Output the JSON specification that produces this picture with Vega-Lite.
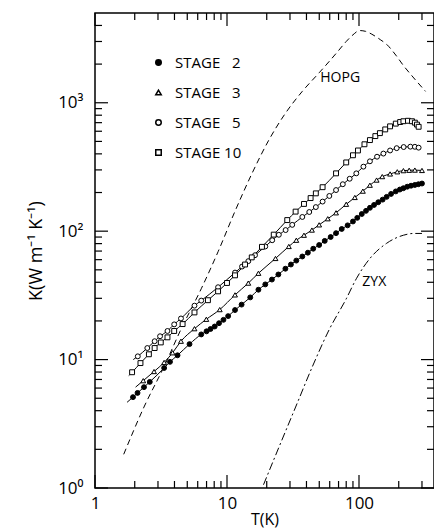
{
  "$schema": "https://vega.github.io/schema/vega-lite/v6.json",
  "width": 339,
  "height": 475,
  "autosize": {"type": "none"},
  "padding": {"left": 95, "top": 13, "right": 0, "bottom": 43},
  "background": "white",
  "config": {
    "view": {"stroke": "black", "strokeWidth": 1.5},
    "axis": {"domain": false, "grid": false, "ticks": false, "labelFont": "Open Sans", "titleFont": "Open Sans", "labelColor": "black", "titleColor": "black", "labelFontWeight": "normal", "titleFontWeight": "normal", "labelOverlap": false}
  },
  "datasets": {
    "pts": [
      {"stage": "STAGE 2", "T": 1.75, "K": 4.65, "kind": "start"},
      {"stage": "STAGE 2", "T": 1.94, "K": 5.1},
      {"stage": "STAGE 2", "T": 2.1, "K": 5.5},
      {"stage": "STAGE 2", "T": 2.35, "K": 6.1},
      {"stage": "STAGE 2", "T": 2.6, "K": 6.7},
      {"stage": "STAGE 2", "T": 3.34, "K": 8.6},
      {"stage": "STAGE 2", "T": 3.7, "K": 9.6},
      {"stage": "STAGE 2", "T": 4.22, "K": 10.8},
      {"stage": "STAGE 2", "T": 5.2, "K": 13.2},
      {"stage": "STAGE 2", "T": 6.38, "K": 15.7},
      {"stage": "STAGE 2", "T": 7.0, "K": 16.6},
      {"stage": "STAGE 2", "T": 7.5, "K": 17.3},
      {"stage": "STAGE 2", "T": 8.07, "K": 18.1},
      {"stage": "STAGE 2", "T": 8.7, "K": 19.2},
      {"stage": "STAGE 2", "T": 9.4, "K": 20.4},
      {"stage": "STAGE 2", "T": 10.2, "K": 21.8},
      {"stage": "STAGE 2", "T": 11.5, "K": 24.3},
      {"stage": "STAGE 2", "T": 12.9, "K": 26.8},
      {"stage": "STAGE 2", "T": 15.0, "K": 30.5},
      {"stage": "STAGE 2", "T": 17.3, "K": 35.0},
      {"stage": "STAGE 2", "T": 19.5, "K": 38.5},
      {"stage": "STAGE 2", "T": 21.9, "K": 42},
      {"stage": "STAGE 2", "T": 24.5, "K": 46},
      {"stage": "STAGE 2", "T": 27.7, "K": 51},
      {"stage": "STAGE 2", "T": 30.5, "K": 55},
      {"stage": "STAGE 2", "T": 33.5, "K": 59},
      {"stage": "STAGE 2", "T": 37.2, "K": 63.5},
      {"stage": "STAGE 2", "T": 41, "K": 68},
      {"stage": "STAGE 2", "T": 45, "K": 73},
      {"stage": "STAGE 2", "T": 49.9, "K": 78},
      {"stage": "STAGE 2", "T": 55, "K": 84},
      {"stage": "STAGE 2", "T": 61, "K": 90},
      {"stage": "STAGE 2", "T": 67, "K": 96.5},
      {"stage": "STAGE 2", "T": 74, "K": 104},
      {"stage": "STAGE 2", "T": 82, "K": 111},
      {"stage": "STAGE 2", "T": 90, "K": 119},
      {"stage": "STAGE 2", "T": 97, "K": 127},
      {"stage": "STAGE 2", "T": 105, "K": 136},
      {"stage": "STAGE 2", "T": 113, "K": 144},
      {"stage": "STAGE 2", "T": 121, "K": 152},
      {"stage": "STAGE 2", "T": 130, "K": 160},
      {"stage": "STAGE 2", "T": 140, "K": 168},
      {"stage": "STAGE 2", "T": 151, "K": 176},
      {"stage": "STAGE 2", "T": 162, "K": 185},
      {"stage": "STAGE 2", "T": 175, "K": 195},
      {"stage": "STAGE 2", "T": 190, "K": 204},
      {"stage": "STAGE 2", "T": 204, "K": 211},
      {"stage": "STAGE 2", "T": 217, "K": 216},
      {"stage": "STAGE 2", "T": 232, "K": 222},
      {"stage": "STAGE 2", "T": 248, "K": 226},
      {"stage": "STAGE 2", "T": 265, "K": 229},
      {"stage": "STAGE 2", "T": 282, "K": 232},
      {"stage": "STAGE 2", "T": 300, "K": 235},
      {"stage": "STAGE 3", "T": 2.03, "K": 6.1, "kind": "start"},
      {"stage": "STAGE 3", "T": 2.32, "K": 6.85},
      {"stage": "STAGE 3", "T": 2.8, "K": 8.07},
      {"stage": "STAGE 3", "T": 3.34, "K": 9.5},
      {"stage": "STAGE 3", "T": 3.87, "K": 11.3},
      {"stage": "STAGE 3", "T": 4.48, "K": 13.9},
      {"stage": "STAGE 3", "T": 5.67, "K": 17.4},
      {"stage": "STAGE 3", "T": 6.97, "K": 20.6},
      {"stage": "STAGE 3", "T": 8.81, "K": 24.5},
      {"stage": "STAGE 3", "T": 11.5, "K": 31.9},
      {"stage": "STAGE 3", "T": 14.5, "K": 39.4},
      {"stage": "STAGE 3", "T": 17.3, "K": 47},
      {"stage": "STAGE 3", "T": 23.3, "K": 61.3},
      {"stage": "STAGE 3", "T": 29.4, "K": 76},
      {"stage": "STAGE 3", "T": 33.5, "K": 85},
      {"stage": "STAGE 3", "T": 38.3, "K": 93},
      {"stage": "STAGE 3", "T": 44, "K": 102},
      {"stage": "STAGE 3", "T": 49.9, "K": 112},
      {"stage": "STAGE 3", "T": 58, "K": 125},
      {"stage": "STAGE 3", "T": 67, "K": 139},
      {"stage": "STAGE 3", "T": 80, "K": 162},
      {"stage": "STAGE 3", "T": 93, "K": 183},
      {"stage": "STAGE 3", "T": 107, "K": 205},
      {"stage": "STAGE 3", "T": 121, "K": 228},
      {"stage": "STAGE 3", "T": 136, "K": 250},
      {"stage": "STAGE 3", "T": 150, "K": 266},
      {"stage": "STAGE 3", "T": 172, "K": 279},
      {"stage": "STAGE 3", "T": 195, "K": 290},
      {"stage": "STAGE 3", "T": 217, "K": 296},
      {"stage": "STAGE 3", "T": 240, "K": 298},
      {"stage": "STAGE 3", "T": 265, "K": 299},
      {"stage": "STAGE 3", "T": 300, "K": 297},
      {"stage": "STAGE 5", "T": 1.95, "K": 10.0, "kind": "start"},
      {"stage": "STAGE 5", "T": 2.11, "K": 10.6},
      {"stage": "STAGE 5", "T": 2.49, "K": 12.3},
      {"stage": "STAGE 5", "T": 2.83, "K": 13.9},
      {"stage": "STAGE 5", "T": 3.11, "K": 15.2},
      {"stage": "STAGE 5", "T": 3.54, "K": 16.7},
      {"stage": "STAGE 5", "T": 3.98, "K": 18.8},
      {"stage": "STAGE 5", "T": 4.48, "K": 20.9},
      {"stage": "STAGE 5", "T": 5.67, "K": 26.3},
      {"stage": "STAGE 5", "T": 6.38, "K": 28.8},
      {"stage": "STAGE 5", "T": 8.56, "K": 36.6},
      {"stage": "STAGE 5", "T": 11.5, "K": 47.6},
      {"stage": "STAGE 5", "T": 13.0, "K": 53},
      {"stage": "STAGE 5", "T": 14.5, "K": 58.4},
      {"stage": "STAGE 5", "T": 16.3, "K": 65},
      {"stage": "STAGE 5", "T": 19.5, "K": 76},
      {"stage": "STAGE 5", "T": 22, "K": 85},
      {"stage": "STAGE 5", "T": 24.7, "K": 93.7},
      {"stage": "STAGE 5", "T": 27.8, "K": 102},
      {"stage": "STAGE 5", "T": 31.2, "K": 112},
      {"stage": "STAGE 5", "T": 37.2, "K": 129},
      {"stage": "STAGE 5", "T": 42, "K": 141},
      {"stage": "STAGE 5", "T": 47.1, "K": 154},
      {"stage": "STAGE 5", "T": 53, "K": 170},
      {"stage": "STAGE 5", "T": 59.6, "K": 188},
      {"stage": "STAGE 5", "T": 67, "K": 209},
      {"stage": "STAGE 5", "T": 75.4, "K": 232},
      {"stage": "STAGE 5", "T": 85, "K": 256},
      {"stage": "STAGE 5", "T": 95.4, "K": 282},
      {"stage": "STAGE 5", "T": 108, "K": 318},
      {"stage": "STAGE 5", "T": 121, "K": 350},
      {"stage": "STAGE 5", "T": 137, "K": 380},
      {"stage": "STAGE 5", "T": 153, "K": 402},
      {"stage": "STAGE 5", "T": 172, "K": 425},
      {"stage": "STAGE 5", "T": 193, "K": 443},
      {"stage": "STAGE 5", "T": 218, "K": 452},
      {"stage": "STAGE 5", "T": 245, "K": 455},
      {"stage": "STAGE 5", "T": 265, "K": 454},
      {"stage": "STAGE 5", "T": 283, "K": 447},
      {"stage": "STAGE 10", "T": 1.8, "K": 7.5, "kind": "start"},
      {"stage": "STAGE 10", "T": 1.91, "K": 7.97},
      {"stage": "STAGE 10", "T": 2.21, "K": 9.39},
      {"stage": "STAGE 10", "T": 2.56, "K": 11.0},
      {"stage": "STAGE 10", "T": 2.83, "K": 12.3},
      {"stage": "STAGE 10", "T": 3.15, "K": 13.6},
      {"stage": "STAGE 10", "T": 3.54, "K": 14.9},
      {"stage": "STAGE 10", "T": 3.98, "K": 16.7},
      {"stage": "STAGE 10", "T": 4.61, "K": 18.9},
      {"stage": "STAGE 10", "T": 5.67, "K": 23.3},
      {"stage": "STAGE 10", "T": 7.17, "K": 29.0},
      {"stage": "STAGE 10", "T": 8.56, "K": 34.0},
      {"stage": "STAGE 10", "T": 10, "K": 39.5},
      {"stage": "STAGE 10", "T": 11.5, "K": 45.3},
      {"stage": "STAGE 10", "T": 13.7, "K": 55.0},
      {"stage": "STAGE 10", "T": 15.4, "K": 62.5},
      {"stage": "STAGE 10", "T": 18.4, "K": 75.5},
      {"stage": "STAGE 10", "T": 22.6, "K": 94},
      {"stage": "STAGE 10", "T": 28.6, "K": 122},
      {"stage": "STAGE 10", "T": 33.1, "K": 142},
      {"stage": "STAGE 10", "T": 38.3, "K": 163},
      {"stage": "STAGE 10", "T": 43, "K": 181},
      {"stage": "STAGE 10", "T": 47.1, "K": 197},
      {"stage": "STAGE 10", "T": 53, "K": 220},
      {"stage": "STAGE 10", "T": 67, "K": 282},
      {"stage": "STAGE 10", "T": 80, "K": 343},
      {"stage": "STAGE 10", "T": 90, "K": 390},
      {"stage": "STAGE 10", "T": 98.2, "K": 425},
      {"stage": "STAGE 10", "T": 110, "K": 475},
      {"stage": "STAGE 10", "T": 121, "K": 512},
      {"stage": "STAGE 10", "T": 133, "K": 550},
      {"stage": "STAGE 10", "T": 144, "K": 580},
      {"stage": "STAGE 10", "T": 158, "K": 620},
      {"stage": "STAGE 10", "T": 172, "K": 655},
      {"stage": "STAGE 10", "T": 190, "K": 688},
      {"stage": "STAGE 10", "T": 205, "K": 708},
      {"stage": "STAGE 10", "T": 217, "K": 718},
      {"stage": "STAGE 10", "T": 235, "K": 724},
      {"stage": "STAGE 10", "T": 252, "K": 718},
      {"stage": "STAGE 10", "T": 265, "K": 700},
      {"stage": "STAGE 10", "T": 275, "K": 676},
      {"stage": "STAGE 10", "T": 283, "K": 650}
    ],
    "hopg": [
      {"T": 1.65, "K": 1.83},
      {"T": 2.35, "K": 4.27},
      {"T": 3.34, "K": 8.84},
      {"T": 4.48, "K": 17.2},
      {"T": 6.38, "K": 35.6},
      {"T": 8.56, "K": 69.2},
      {"T": 11.5, "K": 143},
      {"T": 15.4, "K": 279},
      {"T": 20.7, "K": 510},
      {"T": 27.7, "K": 828},
      {"T": 37.2, "K": 1227},
      {"T": 49.9, "K": 1712},
      {"T": 60, "K": 2120},
      {"T": 70, "K": 2550},
      {"T": 80, "K": 3000},
      {"T": 90, "K": 3380},
      {"T": 101, "K": 3650},
      {"T": 112, "K": 3600},
      {"T": 125, "K": 3420},
      {"T": 145, "K": 3100},
      {"T": 162, "K": 2850},
      {"T": 190, "K": 2350},
      {"T": 217, "K": 1950},
      {"T": 260, "K": 1560},
      {"T": 319, "K": 1227}
    ],
    "zyx": [
      {"T": 18.9, "K": 1.06},
      {"T": 24.7, "K": 2.07},
      {"T": 33.1, "K": 4.27},
      {"T": 44.4, "K": 8.84},
      {"T": 59.6, "K": 17.2},
      {"T": 80, "K": 29.7},
      {"T": 95.4, "K": 42.6},
      {"T": 121, "K": 61.3},
      {"T": 162, "K": 80.5},
      {"T": 217, "K": 93},
      {"T": 260, "K": 96},
      {"T": 300, "K": 96}
    ],
    "labels": [
      {"T": 50.9, "K": 1549, "label": "HOPG"},
      {"T": 106, "K": 40.3, "label": "ZYX"}
    ],
    "xticks": [
      {"v": 1, "kind": "major"}, {"v": 10, "kind": "major"}, {"v": 100, "kind": "major"},
      {"v": 2, "kind": "minor"}, {"v": 3, "kind": "minor"}, {"v": 4, "kind": "minor"}, {"v": 5, "kind": "minor"},
      {"v": 6, "kind": "minor"}, {"v": 7, "kind": "minor"}, {"v": 8, "kind": "minor"}, {"v": 9, "kind": "minor"},
      {"v": 20, "kind": "minor"}, {"v": 30, "kind": "minor"}, {"v": 40, "kind": "minor"}, {"v": 50, "kind": "minor"},
      {"v": 60, "kind": "minor"}, {"v": 70, "kind": "minor"}, {"v": 80, "kind": "minor"}, {"v": 90, "kind": "minor"},
      {"v": 200, "kind": "minor"}, {"v": 300, "kind": "minor"}
    ],
    "yticks": [
      {"v": 1, "kind": "major"}, {"v": 10, "kind": "major"}, {"v": 100, "kind": "major"}, {"v": 1000, "kind": "major"},
      {"v": 2, "kind": "minor"}, {"v": 3, "kind": "minor"}, {"v": 4, "kind": "minor"}, {"v": 5, "kind": "minor"},
      {"v": 6, "kind": "minor"}, {"v": 7, "kind": "minor"}, {"v": 8, "kind": "minor"}, {"v": 9, "kind": "minor"},
      {"v": 20, "kind": "minor"}, {"v": 30, "kind": "minor"}, {"v": 40, "kind": "minor"}, {"v": 50, "kind": "minor"},
      {"v": 60, "kind": "minor"}, {"v": 70, "kind": "minor"}, {"v": 80, "kind": "minor"}, {"v": 90, "kind": "minor"},
      {"v": 200, "kind": "minor"}, {"v": 300, "kind": "minor"}, {"v": 400, "kind": "minor"}, {"v": 500, "kind": "minor"},
      {"v": 600, "kind": "minor"}, {"v": 700, "kind": "minor"}, {"v": 800, "kind": "minor"}, {"v": 900, "kind": "minor"},
      {"v": 2000, "kind": "minor"}, {"v": 3000, "kind": "minor"}, {"v": 4000, "kind": "minor"}
    ]
  },
  "layer": [
    {
      "data": {"name": "hopg"},
      "mark": {"type": "line", "stroke": "black", "strokeWidth": 1, "strokeDash": [6, 4], "interpolate": "monotone"},
      "encoding": {
        "x": {"field": "T", "type": "quantitative", "scale": {"type": "log", "domain": [1, 370], "nice": false},
          "axis": {"orient": "bottom", "values": [1, 10, 100],
            "labelExpr": "datum.value == 1 ? '1' : datum.value == 10 ? '10' : '100'",
            "labelPadding": 7, "labelFontSize": 17, "labelFlush": false, "title": "T(K)", "titleFontSize": 16, "titlePadding": 0}},
        "y": {"field": "K", "type": "quantitative", "scale": {"type": "log", "domain": [1, 5000], "nice": false},
          "axis": {"orient": "left", "values": [1, 10, 100, 1000],
            "labelExpr": "datum.value == 1 ? '10⁰' : datum.value == 10 ? '10¹' : datum.value == 100 ? '10²' : '10³'",
            "labelPadding": 12, "labelFontSize": 17, "title": "K(W m⁻¹ K⁻¹)", "titleFontSize": 18, "titlePadding": 12}}
      }
    },
    {
      "data": {"name": "zyx"},
      "mark": {"type": "line", "stroke": "black", "strokeWidth": 1, "strokeDash": [8, 3, 2, 3], "interpolate": "monotone"},
      "encoding": {
        "x": {"field": "T", "type": "quantitative", "scale": {"type": "log", "domain": [1, 370], "nice": false}, "axis": null},
        "y": {"field": "K", "type": "quantitative", "scale": {"type": "log", "domain": [1, 5000], "nice": false}, "axis": null}
      }
    },
    {
      "data": {"name": "xticks"},
      "transform": [{"filter": "datum.kind == 'major'"}],
      "mark": {"type": "tick", "orient": "vertical", "size": 13, "thickness": 1.2, "color": "black", "opacity": 1, "yOffset": -6.5},
      "encoding": {
        "x": {"field": "v", "type": "quantitative", "scale": {"type": "log", "domain": [1, 370], "nice": false}, "axis": null},
        "y": {"datum": 1, "type": "quantitative", "scale": {"type": "log", "domain": [1, 5000], "nice": false}, "axis": null}
      }
    },
    {
      "data": {"name": "xticks"},
      "transform": [{"filter": "datum.kind == 'minor'"}],
      "mark": {"type": "tick", "orient": "vertical", "size": 7, "thickness": 1.2, "color": "black", "opacity": 1, "yOffset": -3.5},
      "encoding": {
        "x": {"field": "v", "type": "quantitative", "scale": {"type": "log", "domain": [1, 370], "nice": false}, "axis": null},
        "y": {"datum": 1, "type": "quantitative", "scale": {"type": "log", "domain": [1, 5000], "nice": false}, "axis": null}
      }
    },
    {
      "data": {"name": "xticks"},
      "transform": [{"filter": "datum.kind == 'major'"}],
      "mark": {"type": "tick", "orient": "vertical", "size": 13, "thickness": 1.2, "color": "black", "opacity": 1, "yOffset": 6.5},
      "encoding": {
        "x": {"field": "v", "type": "quantitative", "scale": {"type": "log", "domain": [1, 370], "nice": false}, "axis": null},
        "y": {"datum": 5000, "type": "quantitative", "scale": {"type": "log", "domain": [1, 5000], "nice": false}, "axis": null}
      }
    },
    {
      "data": {"name": "xticks"},
      "transform": [{"filter": "datum.kind == 'minor'"}],
      "mark": {"type": "tick", "orient": "vertical", "size": 7, "thickness": 1.2, "color": "black", "opacity": 1, "yOffset": 3.5},
      "encoding": {
        "x": {"field": "v", "type": "quantitative", "scale": {"type": "log", "domain": [1, 370], "nice": false}, "axis": null},
        "y": {"datum": 5000, "type": "quantitative", "scale": {"type": "log", "domain": [1, 5000], "nice": false}, "axis": null}
      }
    },
    {
      "data": {"name": "yticks"},
      "transform": [{"filter": "datum.kind == 'major'"}],
      "mark": {"type": "tick", "orient": "horizontal", "size": 13, "thickness": 1.2, "color": "black", "opacity": 1, "xOffset": 6.5},
      "encoding": {
        "y": {"field": "v", "type": "quantitative", "scale": {"type": "log", "domain": [1, 5000], "nice": false}, "axis": null},
        "x": {"datum": 1, "type": "quantitative", "scale": {"type": "log", "domain": [1, 370], "nice": false}, "axis": null}
      }
    },
    {
      "data": {"name": "yticks"},
      "transform": [{"filter": "datum.kind == 'minor'"}],
      "mark": {"type": "tick", "orient": "horizontal", "size": 7, "thickness": 1.2, "color": "black", "opacity": 1, "xOffset": 3.5},
      "encoding": {
        "y": {"field": "v", "type": "quantitative", "scale": {"type": "log", "domain": [1, 5000], "nice": false}, "axis": null},
        "x": {"datum": 1, "type": "quantitative", "scale": {"type": "log", "domain": [1, 370], "nice": false}, "axis": null}
      }
    },
    {
      "data": {"name": "yticks"},
      "transform": [{"filter": "datum.kind == 'major'"}],
      "mark": {"type": "tick", "orient": "horizontal", "size": 13, "thickness": 1.2, "color": "black", "opacity": 1, "xOffset": -6.5},
      "encoding": {
        "y": {"field": "v", "type": "quantitative", "scale": {"type": "log", "domain": [1, 5000], "nice": false}, "axis": null},
        "x": {"datum": 370, "type": "quantitative", "scale": {"type": "log", "domain": [1, 370], "nice": false}, "axis": null}
      }
    },
    {
      "data": {"name": "yticks"},
      "transform": [{"filter": "datum.kind == 'minor'"}],
      "mark": {"type": "tick", "orient": "horizontal", "size": 7, "thickness": 1.2, "color": "black", "opacity": 1, "xOffset": -3.5},
      "encoding": {
        "y": {"field": "v", "type": "quantitative", "scale": {"type": "log", "domain": [1, 5000], "nice": false}, "axis": null},
        "x": {"datum": 370, "type": "quantitative", "scale": {"type": "log", "domain": [1, 370], "nice": false}, "axis": null}
      }
    },
    {
      "data": {"name": "pts"},
      "mark": {"type": "line", "stroke": "black", "strokeWidth": 1, "interpolate": "monotone"},
      "encoding": {
        "detail": {"field": "stage", "type": "nominal"},
        "x": {"field": "T", "type": "quantitative", "scale": {"type": "log", "domain": [1, 370], "nice": false}, "axis": null},
        "y": {"field": "K", "type": "quantitative", "scale": {"type": "log", "domain": [1, 5000], "nice": false}, "axis": null}
      }
    },
    {
      "data": {"name": "pts"},
      "transform": [{"filter": "datum.kind != 'start'"}],
      "mark": {"type": "point", "stroke": "black", "strokeWidth": 1, "size": 24, "opacity": 1},
      "encoding": {
        "x": {"field": "T", "type": "quantitative", "scale": {"type": "log", "domain": [1, 370], "nice": false}, "axis": null},
        "y": {"field": "K", "type": "quantitative", "scale": {"type": "log", "domain": [1, 5000], "nice": false}, "axis": null},
        "shape": {"field": "stage", "type": "nominal",
          "scale": {"domain": ["STAGE 2", "STAGE 3", "STAGE 5", "STAGE 10"], "range": ["circle", "triangle-up", "circle", "square"]},
          "legend": {"orient": "none", "legendX": 56, "legendY": 42, "title": null, "labelFont": "Open Sans", "labelFontSize": 15, "labelColor": "black", "symbolSize": 30, "rowPadding": 14, "labelOffset": 9, "padding": 0, "labelExpr": "datum.label == 'STAGE 10' ? 'STAGE 10' : replace(datum.label, ' ', '\u00a0\u00a0 ')",
            "encode": {"symbols": {"update": {"stroke": {"value": "black"}, "strokeWidth": {"value": 1}}}}}},
        "fill": {"field": "stage", "type": "nominal",
          "scale": {"domain": ["STAGE 2", "STAGE 3", "STAGE 5", "STAGE 10"], "range": ["black", "white", "white", "white"]},
          "legend": {"orient": "none", "legendX": 56, "legendY": 42, "title": null, "labelFont": "Open Sans", "labelFontSize": 15, "labelColor": "black", "symbolSize": 30, "rowPadding": 14, "labelOffset": 9, "padding": 0, "labelExpr": "datum.label == 'STAGE 10' ? 'STAGE 10' : replace(datum.label, ' ', '\u00a0\u00a0 ')",
            "encode": {"symbols": {"update": {"stroke": {"value": "black"}, "strokeWidth": {"value": 1}}}}}}
      }
    },
    {
      "data": {"name": "labels"},
      "mark": {"type": "text", "align": "left", "baseline": "middle", "font": "Open Sans", "fontSize": 14, "color": "black"},
      "encoding": {
        "text": {"field": "label", "type": "nominal"},
        "x": {"field": "T", "type": "quantitative", "scale": {"type": "log", "domain": [1, 370], "nice": false}, "axis": null},
        "y": {"field": "K", "type": "quantitative", "scale": {"type": "log", "domain": [1, 5000], "nice": false}, "axis": null}
      }
    }
  ],
  "resolve": {"axis": {"x": "independent", "y": "independent"}}
}
